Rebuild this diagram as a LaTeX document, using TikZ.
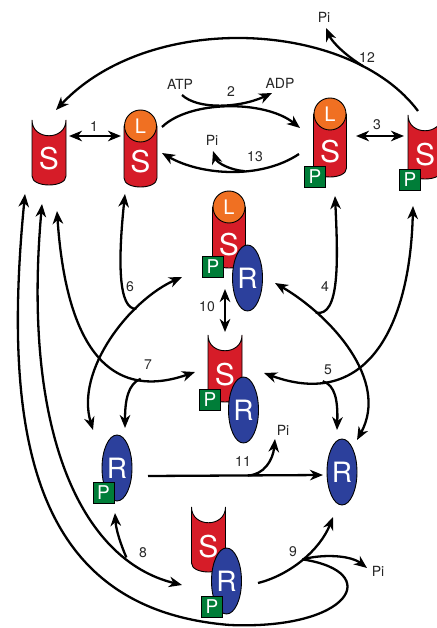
\documentclass[tikz,border=0pt]{standalone}
\usepackage{fontspec}
\setmainfont{TeX Gyre Heros}
\usetikzlibrary{arrows.meta,shapes.geometric}
\definecolor{cRed}{RGB}{214,28,40}
\definecolor{cOrange}{RGB}{240,112,34}
\definecolor{cBlue}{RGB}{44,64,156}
\definecolor{cGreen}{RGB}{0,125,56}
\tikzset{
  Hd/.tip={Stealth[length=13pt,width=10.5pt,inset=4pt]},
  conn/.style={line width=2.3pt},
  body/.style={fill=cRed,draw=black,line width=0.9pt},
  stext/.style={text=white,inner sep=0pt,font=\fontsize{30}{30}\selectfont},
  lnode/.style={circle,fill=cOrange,draw=black,line width=0.9pt,minimum size=32pt,inner sep=0pt,text=white,font=\fontsize{20}{20}\selectfont},
  pnode/.style={rectangle,fill=cGreen,draw=black,line width=0.5pt,minimum size=21pt,inner sep=0pt,text=white,font=\fontsize{19}{19}\selectfont},
  rnode/.style={ellipse,fill=cBlue,draw=black,line width=0.9pt,minimum width=30pt,minimum height=66pt,inner sep=0pt,text=white,font=\fontsize{28}{28}\selectfont},
  lbl/.style={inner sep=0pt,text=black!85,font=\fontsize{14}{14}\selectfont}
}
% cupped cylinder: x, ytop, ybottom
\newcommand{\cupbody}[3]{%
  \filldraw[body] ({#1-17},#2) -- ({#1-17},{#3-9}) .. controls ({#1-17},{#3+3}) and ({#1+17},{#3+3}) .. ({#1+17},{#3-9}) -- ({#1+17},#2) .. controls ({#1+17},{#2+21}) and ({#1-17},{#2+21}) .. ({#1-17},#2) -- cycle;}
% cylinder under an L cap: x, ycap, ybottom
\newcommand{\lbody}[3]{%
  \filldraw[body] ({#1-16.5},#2) -- ({#1-16.5},{#3-9}) .. controls ({#1-16.5},{#3+3}) and ({#1+16.5},{#3+3}) .. ({#1+16.5},{#3-9}) -- ({#1+16.5},#2) -- cycle;}
\begin{document}
\begin{tikzpicture}[x=1pt,y=-1pt]
\fill[white] (0,0) rectangle (436,628);
\useasboundingbox (0,0) rectangle (436,628);

% ---------- connector end points ----------
\coordinate (a1s) at (69,136);   \coordinate (a1e) at (121,136);
\coordinate (a3s) at (356,136);  \coordinate (a3e) at (404,136);
\coordinate (a2s) at (162,127);  \coordinate (a2e) at (300,128);
\coordinate (atpS) at (182,95);  \coordinate (adpE) at (272,93);
\coordinate (a13s) at (299,154); \coordinate (a13e) at (162,153);
\coordinate (pi13e) at (213,151);
\coordinate (a12s) at (418,111); \coordinate (a12e) at (56,110);
\coordinate (pi12e) at (326,28);
\coordinate (a4a) at (275,283);  \coordinate (a4b) at (357,440); \coordinate (a4c) at (335,196);
\coordinate (a5a) at (413,206);  \coordinate (a5b) at (264,373); \coordinate (a5c) at (337,430);
\coordinate (a6a) at (182,277);  \coordinate (a6b) at (93,430);  \coordinate (a6c) at (125,194);
\coordinate (a7a) at (57,211);   \coordinate (a7b) at (195,372); \coordinate (a7c) at (125,428);
\coordinate (a8a) at (42,204);   \coordinate (a8b) at (182,585); \coordinate (a8c) at (115,513);
\coordinate (a9a) at (258,583);  \coordinate (a9b) at (333,517); \coordinate (pi9e) at (367,568);
\coordinate (a0) at (25,194);    \coordinate (m0) at (230,625);
\coordinate (a10a) at (225,289); \coordinate (a10b) at (225,332);
\coordinate (a11a) at (148,476); \coordinate (a11b) at (323,475); \coordinate (pi11e) at (275,439);

% ---------- connectors ----------
\draw[conn,Hd-Hd] (a1s) -- (a1e);
\draw[conn,Hd-Hd] (a3s) -- (a3e);
\draw[conn,-Hd] (a2s) .. controls (190,100) and (265,100) .. (a2e);
\draw[conn,-Hd] (atpS) .. controls (198,110) and (240,108) .. (adpE);
\draw[conn,-Hd] (a13s) .. controls (260,180) and (200,175) .. (a13e) coordinate[pos=0.4] (b13);
\draw[conn,-Hd] (b13) .. controls (230,170) and (217,163) .. (pi13e);
\draw[conn,-Hd] (a12s) .. controls (350,20) and (150,10) .. (a12e) coordinate[pos=0.2] (b12);
\draw[conn,-Hd] (b12) .. controls (345,55) and (332,42) .. (pi12e);
\draw[conn,Hd-Hd] (a4a) .. controls (330,315) and (390,380) .. (a4b) coordinate[pos=0.25] (b4);
\draw[conn,-Hd] (b4) .. controls (340,318) and (338,260) .. (a4c);
\draw[conn,Hd-Hd] (a5a) .. controls (410,330) and (365,410) .. (a5b) coordinate[pos=0.78] (b5);
\draw[conn,-Hd] (b5) .. controls (335,385) and (338,400) .. (a5c);
\draw[conn,Hd-Hd] (a6a) .. controls (130,300) and (75,370) .. (a6b) coordinate[pos=0.3] (b6);
\draw[conn,-Hd] (b6) .. controls (118,310) and (118,260) .. (a6c);
\draw[conn,Hd-Hd] (a7a) .. controls (65,330) and (100,405) .. (a7b) coordinate[pos=0.78] (b7);
\draw[conn,-Hd] (b7) .. controls (128,384) and (125,400) .. (a7c);
\draw[conn,Hd-Hd] (a8a) .. controls (22,430) and (80,560) .. (a8b) coordinate[pos=0.8] (b8);
\draw[conn,-Hd] (b8) .. controls (121,545) and (116,530) .. (a8c);
\draw[conn,-Hd] (a9a) .. controls (290,575) and (320,550) .. (a9b) coordinate[pos=0.5] (b9);
\draw[conn,-Hd] (b9) .. controls (322,554) and (350,555) .. (pi9e);
\draw[conn,Hd-] (a0) .. controls (0,450) and (40,610) .. (m0) .. controls (350,630) and (385,572) .. (b9);
\draw[conn,Hd-Hd] (a10a) -- (a10b);
\draw[conn,-Hd] (a11a) -- (a11b) coordinate[pos=0.57] (b11);
\draw[conn,-Hd] (b11) .. controls (264,475) and (273,460) .. (pi11e);

% ---------- labels ----------
\node[lbl] (tATP) at (180,84) {ATP};
\node[lbl] (tADP) at (280,83) {ADP};
\node[lbl] (n1) at (94,127) {1};
\node[lbl] (n2) at (231,92) {2};
\node[lbl] (n3) at (377,125) {3};
\node[lbl] (n4) at (325,287) {4};
\node[lbl] (n5) at (328,370) {5};
\node[lbl] (n6) at (130,287) {6};
\node[lbl] (n7) at (148,365) {7};
\node[lbl] (n8) at (143,553) {8};
\node[lbl] (n9) at (293,552) {9};
\node[lbl] (n10) at (207,307) {10};
\node[lbl] (n11) at (243,462) {11};
\node[lbl] (n12) at (367,58) {12};
\node[lbl] (n13) at (255,157) {13};
\node[lbl] (pi12) at (324,17) {Pi};
\node[lbl] (pi13) at (212,140) {Pi};
\node[lbl] (pi11) at (283,430) {Pi};
\node[lbl] (pi9) at (378,571) {Pi};

% ---------- molecules ----------
% A: S (left)
\cupbody{49}{120}{185}
\node[stext] (SA) at (49,159) {S};
% B: L-S
\lbody{140.5}{126}{187}
\node[lnode] (LB) at (140.5,126) {L};
\node[stext] (SB) at (140.5,162) {S};
% C: L-S-P
\lbody{330}{114}{177}
\node[lnode] (LC) at (330,114) {L};
\node[stext] (SC) at (330,152) {S};
\node[pnode] (PC) at (315,177) {P};
% D: S-P (right)
\cupbody{425}{115}{179}
\node[stext] (SD) at (425,155) {S};
\node[pnode] (PD) at (410,180) {P};
% E: L-S-P-R
\lbody{229}{207}{268}
\node[lnode] (LE) at (229,207) {L};
\node[stext] (SE) at (229,245) {S};
\node[pnode] (PE) at (213,267) {P};
\node[rnode] (RE) at (247.5,278) {R};
% F: S-P-R
\cupbody{225}{335}{402}
\node[stext] (SF) at (225,375) {S};
\node[pnode] (PF) at (210,400) {P};
\node[rnode] (RF) at (243.5,410) {R};
% G: R-P
\node[rnode] (RG) at (117,468) {R};
\node[pnode] (PG) at (103.5,493) {P};
% H: R
\node[rnode] (RH) at (342,472) {R};
% I: S-R-P
\cupbody{208.5}{507}{572}
\node[stext] (SI) at (208.5,547) {S};
\node[rnode] (RI) at (226.5,581) {R};
\node[pnode] (PI) at (212,607) {P};
\end{tikzpicture}
\end{document}
